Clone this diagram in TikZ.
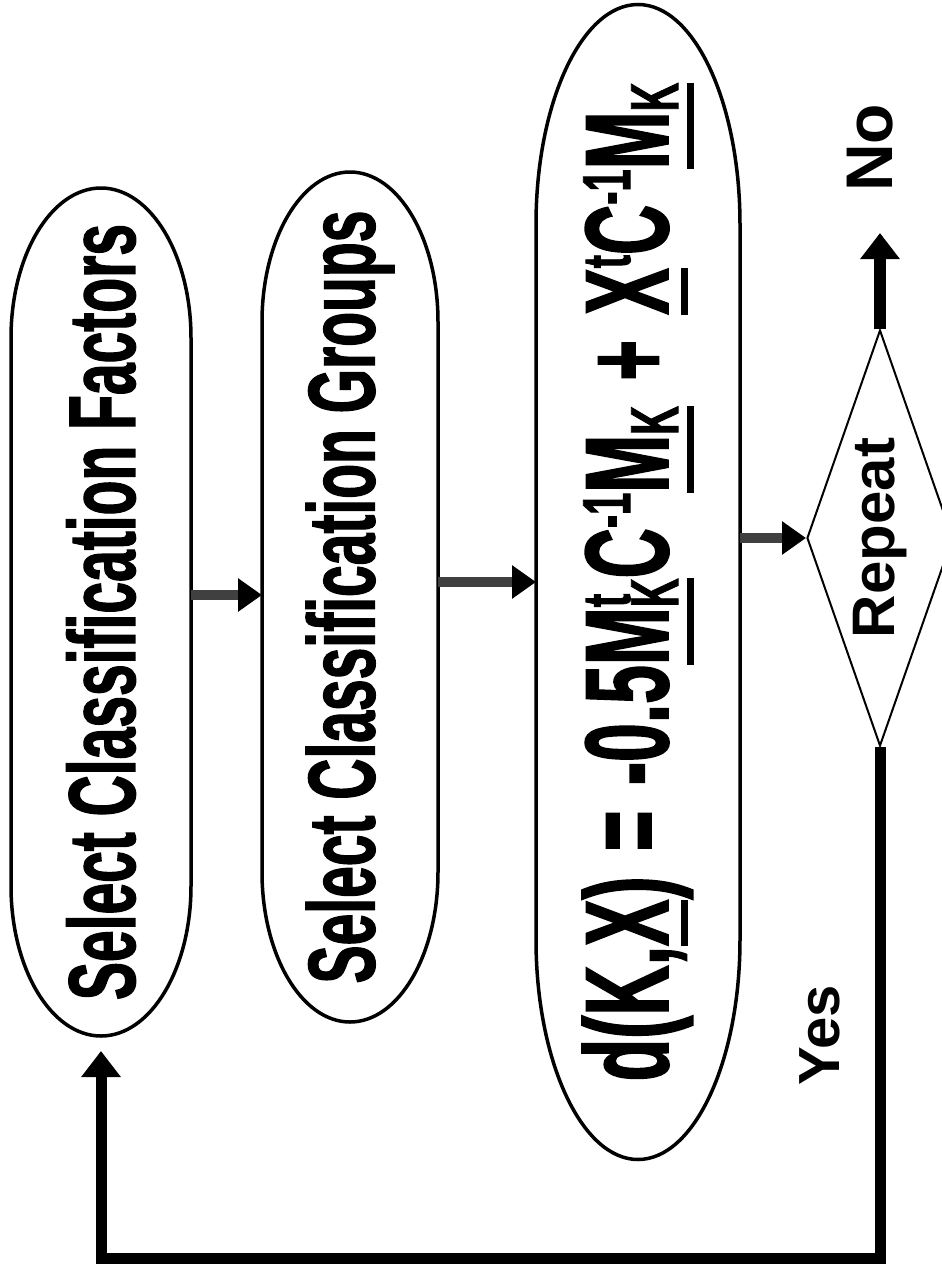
\documentclass[tikz,border=0pt]{standalone}
\usepackage{fontspec}
\setmainfont{Liberation Sans}
\newfontfamily\condfont{Liberation Sans}[FakeStretch=0.6,FakeBold=1.2]
\newfontfamily\formfont{Liberation Sans}[FakeStretch=0.585,FakeBold=1.2]
\usetikzlibrary{arrows.meta,calc,shapes.geometric}
\newcommand\myul[2]{\setbox0\hbox{#2}\rlap{\rule[#1]{\wd0}{7pt}}\box0}
\newcommand\fsup[1]{\raisebox{38pt}{\fontsize{68}{68}\selectfont #1}}
\newcommand\fsub[1]{\raisebox{-10pt}{\fontsize{68}{68}\selectfont #1}}
\newcommand\drawoval[3]{%
  \draw[ovalline] ($(#1.north east)+(0,-#3)$) -- ($(#1.south east)+(0,#3)$)
    arc[start angle=0,end angle=-180,x radius=#2,y radius=#3]
    -- ($(#1.north west)+(0,-#3)$)
    arc[start angle=180,end angle=0,x radius=#2,y radius=#3] -- cycle;}
\begin{document}
\begin{tikzpicture}[x=1pt,y=1pt,
  oval/.style={draw=none,rectangle,inner sep=0pt,outer sep=0pt},
  ovalline/.style={line width=3.5pt,black},
  flowarrow/.style={line width=10pt,draw=black!75,-{Triangle[length=24pt,width=32pt,color=black]}},
  boldarrow/.style={line width=12pt,draw=black,line join=miter,-{Triangle[length=26pt,width=38pt]}},
  lbl/.style={inner sep=0pt},
  bigtext/.style={font=\condfont\bfseries\fontsize{95}{95}\selectfont},
  formtext/.style={font=\formfont\bfseries\fontsize{119}{119}\selectfont},
]
\useasboundingbox (0,0) rectangle (942,-1272);
\clip (0,0) rectangle (942,-1272);

\node[oval,minimum width=180pt,minimum height=848pt,bigtext] (e1) at (101,-612)
  {\rotatebox{90}{Select Classification Factors}};
\node[oval,minimum width=176pt,minimum height=850pt,bigtext] (e2) at (350,-597)
  {\rotatebox{90}{Select Classification Groups}};
\node[oval,minimum width=204pt,minimum height=1155pt,formtext] (e3) at (638,-582)
  {\rotatebox{90}{d(K,\myul{-20pt}{X})\hspace{6pt} =\hspace{6pt} -0.5\myul{-26pt}{M\rlap{\fsup{t}}\fsub{K}}C\fsup{-1}\myul{-26pt}{M\fsub{K}}\hspace{6pt} +\hspace{6pt} \myul{-20pt}{X}\fsup{t}C\fsup{-1}\myul{-26pt}{M\fsub{K}}}};

\drawoval{e1}{90}{150}
\drawoval{e2}{88}{150}
\drawoval{e3}{102}{220}

\node[draw,diamond,line width=2pt,aspect=0.35,minimum width=146pt,minimum height=416pt,inner sep=0pt,font=\bfseries\fontsize{60}{60}\selectfont] (rep) at (880,-538)
  {\rotatebox{90}{Repeat}};

\coordinate (r1) at (0,-595);
\coordinate (r2) at (0,-582);
\draw[flowarrow] (e1.east |- r1) -- (e2.west |- r1);
\draw[flowarrow] (e2.east |- r2) -- (e3.west |- r2);
\draw[flowarrow] (e3.east |- rep.west) -- (rep.west);

\coordinate (notip) at (880,-233);
\draw[boldarrow] (rep.north) -- (notip);
\node[lbl,font=\bfseries\fontsize{66}{66}\selectfont] (no) at (870,-148) {\rotatebox{90}{No}};

\coordinate (lb) at (0,-1258);
\coordinate (looptip) at ($(e1.south)+(0,-15)$);
\draw[boldarrow,line width=11pt] (rep.south) |- (e1.south |- lb) -- (looptip);
\node[lbl,font=\bfseries\fontsize{58}{58}\selectfont] (yes) at (820,-1035) {\rotatebox{90}{Yes}};
\end{tikzpicture}
\end{document}
